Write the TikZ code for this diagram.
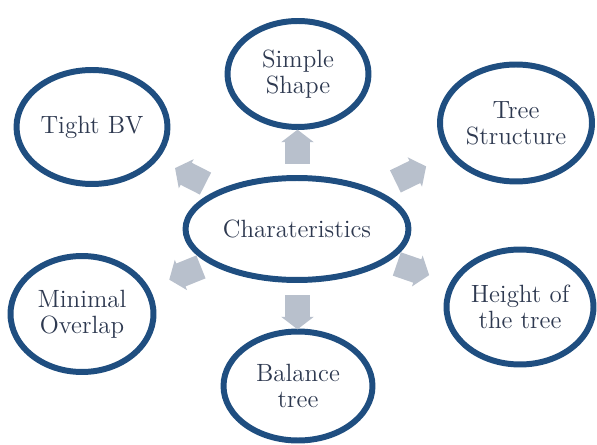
\documentclass[tikz,border=0pt]{standalone}
\usepackage{tikz}
\usetikzlibrary{shapes.geometric,shapes.arrows,calc}

\definecolor{ringblue}{HTML}{1F4E80}
\definecolor{arrowgray}{HTML}{B8C0CC}
\definecolor{textnavy}{HTML}{2E3950}

\tikzset{
  item/.style={ellipse, draw=ringblue, line width=3.4pt, fill=white, inner sep=0pt,
    align=center, text=textnavy, font=\fontsize{14.2}{15}\selectfont},
  blockarrow/.style={single arrow, fill=arrowgray, draw=none, inner sep=0.24cm,
    minimum height=0.52cm, single arrow head extend=0.08cm, single arrow tip angle=105}
}

\begin{document}
\begin{tikzpicture}[x=0.02cm, y=-0.02cm]
            \useasboundingbox (0,0) rectangle (597,445);
            \node[item, minimum width=4.46cm, minimum height=2.04cm](c) at (297, 229) {Charateristics};
            \node[item, minimum width=2.82cm, minimum height=2.12cm](s) at (298, 74) {Simple\\Shape};
            \node[item, minimum width=3.02cm, minimum height=2.28cm](t) at (92, 127) {Tight BV};
            \node[item, minimum width=3.04cm, minimum height=2.34cm](ts) at (516, 123) {Tree\\Structure};
            \node[item, minimum width=2.86cm, minimum height=2.32cm](m) at (82, 314) {Minimal\\Overlap};
            \node[item, minimum width=2.94cm, minimum height=2.30cm](h) at (520, 307) {Height of\\the tree};
            \node[item, minimum width=2.98cm, minimum height=2.18cm](b) at (298, 386) {Balance\\tree};
            \node[blockarrow, rotate=90] (a1) at ($(c)!0.5!(s)$) {};
            \node[blockarrow, rotate=153] (a2) at ($(c)!0.5!(t)$) {};
            \node[blockarrow, rotate=26] (a3) at ($(c)!0.5!(ts)$) {};
            \node[blockarrow, rotate=202] (a4) at ($(c)!0.5!(m)$) {};
            \node[blockarrow, rotate=-19] (a5) at ($(c)!0.5!(h)$) {};
            \node[blockarrow, rotate=-90] (a6) at ($(c)!0.5!(b)$) {};
        \end{tikzpicture}
\end{document}
